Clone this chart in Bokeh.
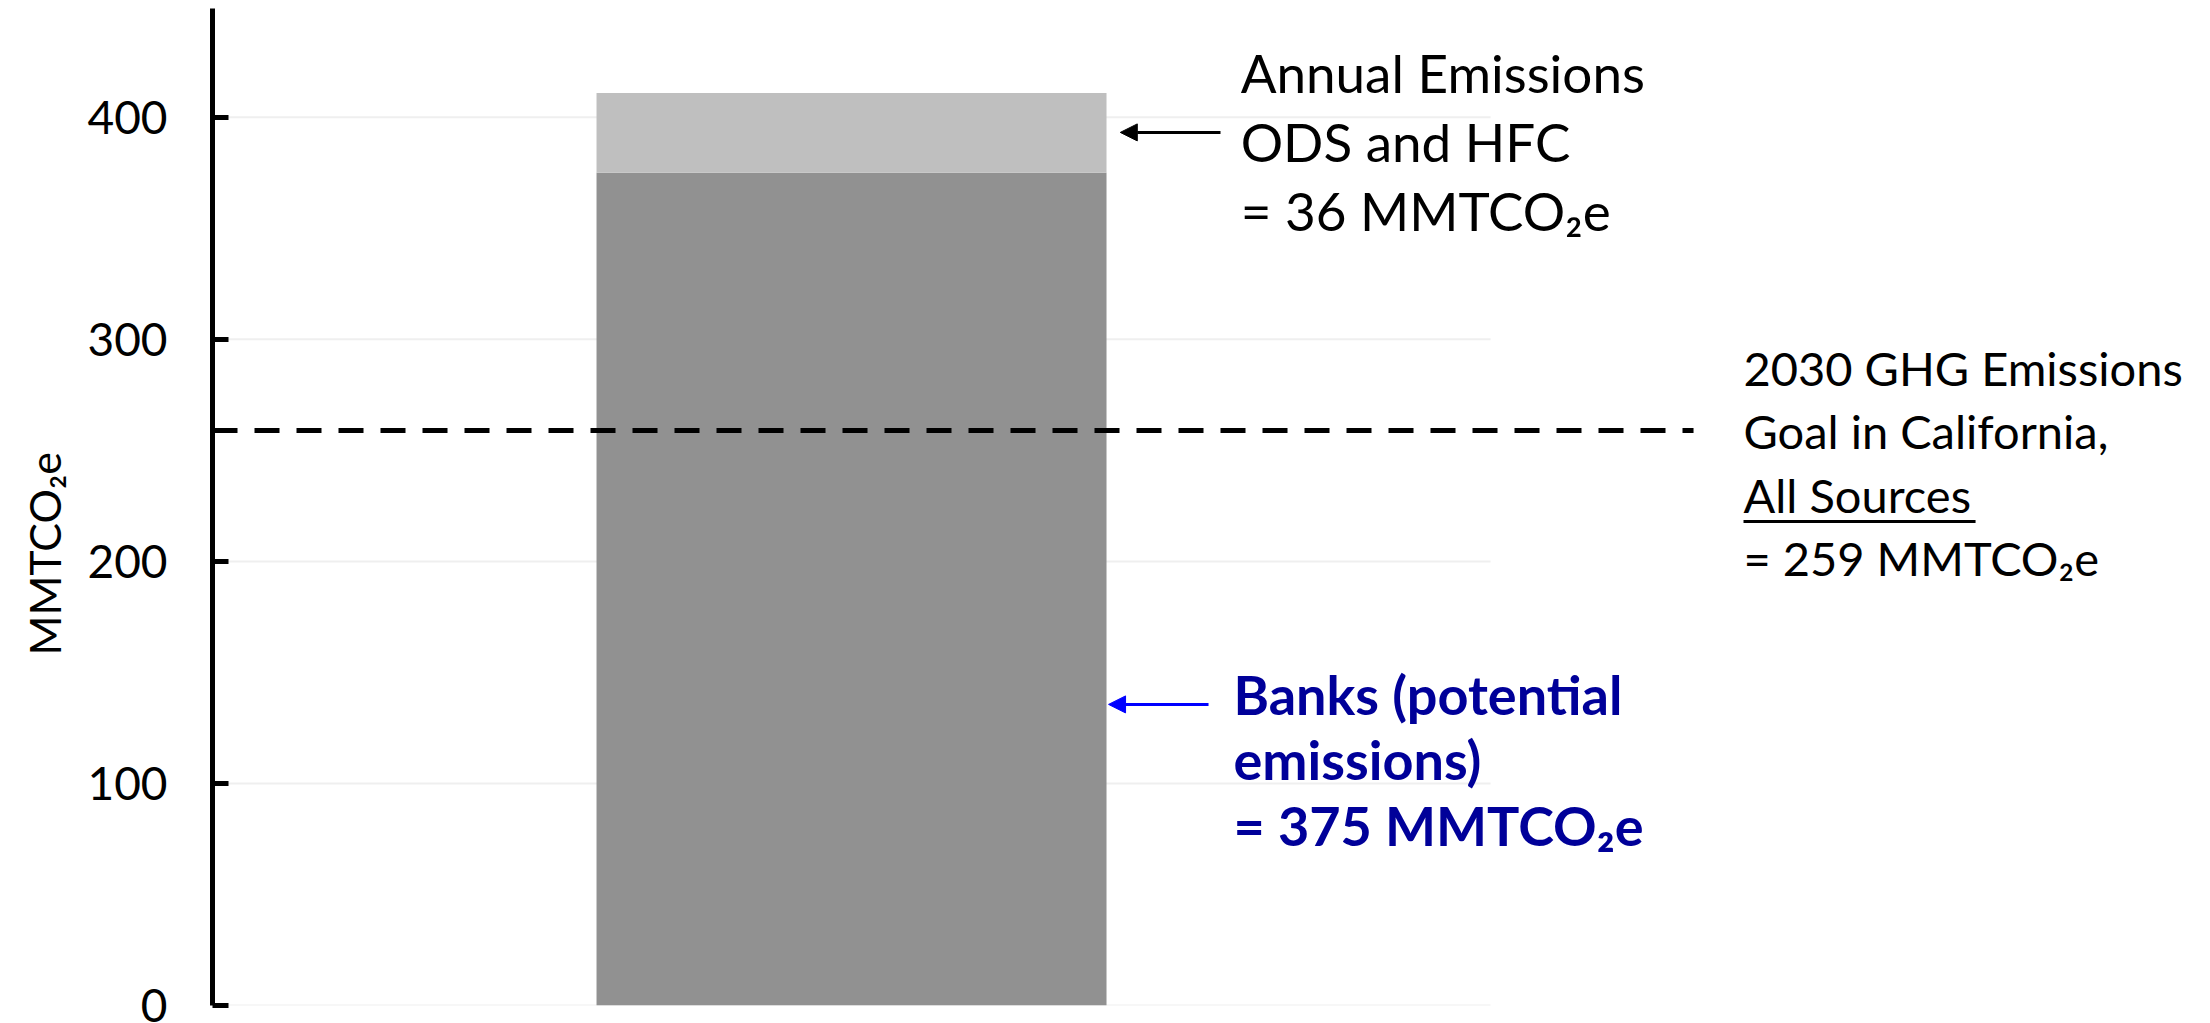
import math
from bokeh.plotting import figure
from bokeh.models import Range1d, ColumnDataSource, Arrow, NormalHead, FixedTicker, Title
from bokeh.core.properties import value
from bokeh.embed import file_html
from bokeh.resources import INLINE

# ---- data ----
categories = ["ODS and HFC"]
banks = [375]            # MMTCO2e, banks (potential emissions)
annual = [36]            # MMTCO2e, annual emissions
goal_2030 = 259          # 2030 GHG goal, all sources
y_ticks = [0, 100, 200, 300, 400]
y_title = "MMTCO\u2082e"
annual_lines = ["Annual Emissions", "ODS and HFC", "= 36 MMTCO\u2082e"]
goal_lines = ["2030 GHG Emissions", "Goal in California,", "All Sources", "= 259 MMTCO\u2082e"]
bank_lines = ["Banks (potential", "emissions)", "= 375 MMTCO\u2082e"]

# ---- layout ----
bar_pos = [1.0]
X0, X1 = -0.253, 3.649
FONT = "Lato"

p = figure(width=2202, height=1023, x_range=Range1d(X0, X1), y_range=Range1d(0, 449),
           output_backend="svg", toolbar_location=None,
           min_border_left=212, min_border_right=0, min_border_top=8, min_border_bottom=18)
p.outline_line_color = None
p.grid.visible = False
p.xaxis.visible = False
p.background_fill_color = "white"

ya = p.yaxis[0]
ya.ticker = FixedTicker(ticks=y_ticks)
ya.axis_line_width = 5
ya.axis_line_color = "black"
ya.major_tick_line_width = 5
ya.major_tick_in = 16
ya.major_tick_out = 0
ya.minor_tick_line_color = None
ya.major_label_text_font = FONT
ya.major_label_text_font_size = "46px"
ya.major_label_text_color = "black"
ya.major_label_standoff = 45

# y-axis title, placed like the reference (below the frame centre)
p.add_layout(Title(text=y_title, align="left", offset=350, text_font=FONT, text_font_size="43px",
                   text_font_style="normal", text_color="black", standoff=30), "left")

# gridlines (only up to the chart area)
grid_end = 2.253
p.segment(x0=[X0] * len(y_ticks), x1=[grid_end] * len(y_ticks), y0=y_ticks, y1=y_ticks,
          line_color="#efefef", line_width=2)

# stacked bar
tops = [b + a for b, a in zip(banks, annual)]
p.vbar(x=bar_pos, bottom=[0] * len(banks), top=banks, width=1.0, fill_color="#919191", line_color=None)
p.vbar(x=bar_pos, bottom=banks, top=tops, width=1.0, fill_color="#bfbfbf", line_color=None)

# goal dashed line
p.line(x=[X0, 2.651], y=[goal_2030, goal_2030], line_color="black", line_width=5, line_dash="25 17")

def text_block(x, ys, lines, size, color="black", style="normal"):
    src = ColumnDataSource(dict(x=[x] * len(lines), y=ys, t=lines))
    p.text(x="x", y="y", text="t", source=src, text_font=value(FONT), text_font_size=size,
           text_color=color, text_font_style=style, text_align="left", text_baseline="alphabetic",
           y_offset=-18)

text_block(1.763, [412.1, 381.0, 349.9], annual_lines, "53px")
text_block(2.749, [279.2, 250.8, 222.0, 193.6], goal_lines, "47px")
text_block(1.749, [132.0, 102.7, 73.0], bank_lines, "54px", color="#000099", style="bold")

# underline for "All Sources"
p.line(x=[2.749, 3.204], y=[218.0, 218.0], line_color="black", line_width=3)

# arrows
p.add_layout(Arrow(end=NormalHead(size=17, fill_color="black", line_color="black"),
                   x_start=1.7235, y_start=393.2, x_end=1.527, y_end=393.2,
                   line_color="black", line_width=3))
p.add_layout(Arrow(end=NormalHead(size=17, fill_color="#0000ff", line_color="#0000ff"),
                   x_start=1.700, y_start=135.6, x_end=1.504, y_end=135.6,
                   line_color="#0000ff", line_width=3))

open("out.html", "w").write(file_html(p, INLINE))
